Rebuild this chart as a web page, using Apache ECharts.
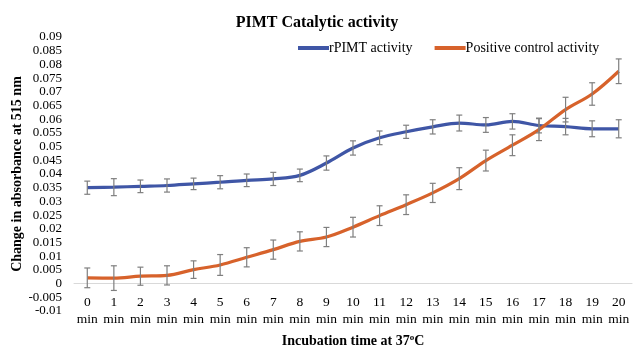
<!DOCTYPE html>
<html><head><meta charset="utf-8">
<script src="https://cdn.jsdelivr.net/npm/echarts@6/dist/echarts.min.js"></script>
<style>html,body{margin:0;padding:0;background:#fff}#c{width:634px;height:345px}</style>
</head><body><div id="c"></div>
<script>
var categories = ['0\nmin','1\nmin','2\nmin','3\nmin','4\nmin','5\nmin','6\nmin','7\nmin','8\nmin','9\nmin','10\nmin','11\nmin','12\nmin','13\nmin','14\nmin','15\nmin','16\nmin','17\nmin','18\nmin','19\nmin','20\nmin'];
var rPIMT = [0.035,0.0352,0.0355,0.0358,0.0364,0.037,0.0377,0.0382,0.0395,0.044,0.0495,0.0532,0.0554,0.0572,0.0586,0.0579,0.0592,0.0577,0.0573,0.0565,0.0565];
var rPIMTErr = [0.0024,0.0031,0.0023,0.0024,0.0021,0.0024,0.0023,0.0024,0.0023,0.0026,0.0026,0.0025,0.0024,0.0026,0.0029,0.0027,0.0028,0.0027,0.003,0.0029,0.0033];
var posCtrl = [0.0021,0.002,0.0027,0.003,0.0051,0.0068,0.0096,0.0124,0.0154,0.017,0.0206,0.0248,0.0288,0.0331,0.0383,0.0449,0.0505,0.0562,0.0635,0.0692,0.0775];
var posCtrlErr = [0.0036,0.0045,0.0033,0.0035,0.0032,0.0038,0.0035,0.0035,0.0035,0.0035,0.0036,0.0036,0.0036,0.0035,0.004,0.0038,0.0038,0.004,0.0045,0.0041,0.0045];
var seriesNames = ['rPIMT activity','Positive control activity'];
var yMin = -0.01, yMax = 0.09, yStep = 0.005;

var BLUE = '#3F56A6', ORANGE = '#D7622B', ERR = '#7F7F7F';
var FONT = '"Liberation Serif", "Times New Roman", serif';

function errSeries(vals, errs) {
  return {
    type: 'custom', silent: true, z: 5,
    data: vals.map(function (v, i) { return [i, v - errs[i], v + errs[i]]; }),
    renderItem: function (params, api) {
      var lo = api.coord([api.value(0), api.value(1)]);
      var hi = api.coord([api.value(0), api.value(2)]);
      var w = 3;
      var st = { stroke: ERR, lineWidth: 1.2 };
      return { type: 'group', children: [
        { type: 'line', shape: { x1: lo[0], y1: lo[1], x2: hi[0], y2: hi[1] }, style: st },
        { type: 'line', shape: { x1: lo[0]-w, y1: lo[1], x2: lo[0]+w, y2: lo[1] }, style: st },
        { type: 'line', shape: { x1: hi[0]-w, y1: hi[1], x2: hi[0]+w, y2: hi[1] }, style: st }
      ]};
    }
  };
}

var chart = echarts.init(document.getElementById('c'), null, { renderer: 'canvas' });
chart.setOption({
  animation: false,
  backgroundColor: '#fff',
  textStyle: { fontFamily: FONT, color: '#000' },
  title: {
    text: 'PIMT Catalytic activity', left: 'center', top: 10,
    textStyle: { fontFamily: FONT, fontSize: 16, fontWeight: 'bold', color: '#000' }
  },
  legend: {
    left: 293, top: 36, itemWidth: 31, itemHeight: 4, itemGap: 22, icon: 'rect',
    data: seriesNames,
    textStyle: { fontFamily: FONT, fontSize: 14, color: '#000', padding: [0, 0, 0, -5] }
  },
  grid: { left: 74, right: 2, top: 37, bottom: 34, outerBoundsMode: 'none', containLabel: false },
  xAxis: {
    type: 'category', data: categories, boundaryGap: true, offset: -27.5,
    axisLine: { onZero: false, lineStyle: { color: '#D9D9D9', width: 1 } },
    axisTick: { show: false },
    axisLabel: { fontFamily: FONT, fontSize: 13.5, color: '#000', lineHeight: 17, margin: 10, interval: 0 },
    name: 'Incubation time at 37{sup|o}C', nameLocation: 'middle', nameGap: 50, nameMoveOverlap: false,
    nameTextStyle: { fontFamily: FONT, fontSize: 14, fontWeight: 'bold', color: '#000',
      rich: { sup: { fontFamily: FONT, fontSize: 9, fontWeight: 'bold', verticalAlign: 'top', padding: [0,0,6,0] } } }
  },
  yAxis: {
    type: 'value', min: yMin, max: yMax, interval: yStep,
    axisLine: { show: false }, axisTick: { show: false }, splitLine: { show: false },
    axisLabel: { fontFamily: FONT, fontSize: 13, color: '#000', margin: 12, showMinLabel: true, showMaxLabel: true, hideOverlap: false,
      formatter: function (v) { return String(+v.toFixed(4)); } },
    name: 'Change in absorbance at 515 nm', nameLocation: 'middle', nameGap: 50, nameMoveOverlap: false,
    nameTextStyle: { fontFamily: FONT, fontSize: 14, fontWeight: 'bold', color: '#000' }
  },
  series: [
    { name: seriesNames[0], type: 'line', data: rPIMT, smooth: 0.35, showSymbol: false, z: 4,
      lineStyle: { color: BLUE, width: 3.2 }, itemStyle: { color: BLUE } },
    { name: seriesNames[1], type: 'line', data: posCtrl, smooth: 0.35, showSymbol: false, z: 4,
      lineStyle: { color: ORANGE, width: 3.2 }, itemStyle: { color: ORANGE } },
    errSeries(rPIMT, rPIMTErr),
    errSeries(posCtrl, posCtrlErr)
  ]
});
</script></body></html>
